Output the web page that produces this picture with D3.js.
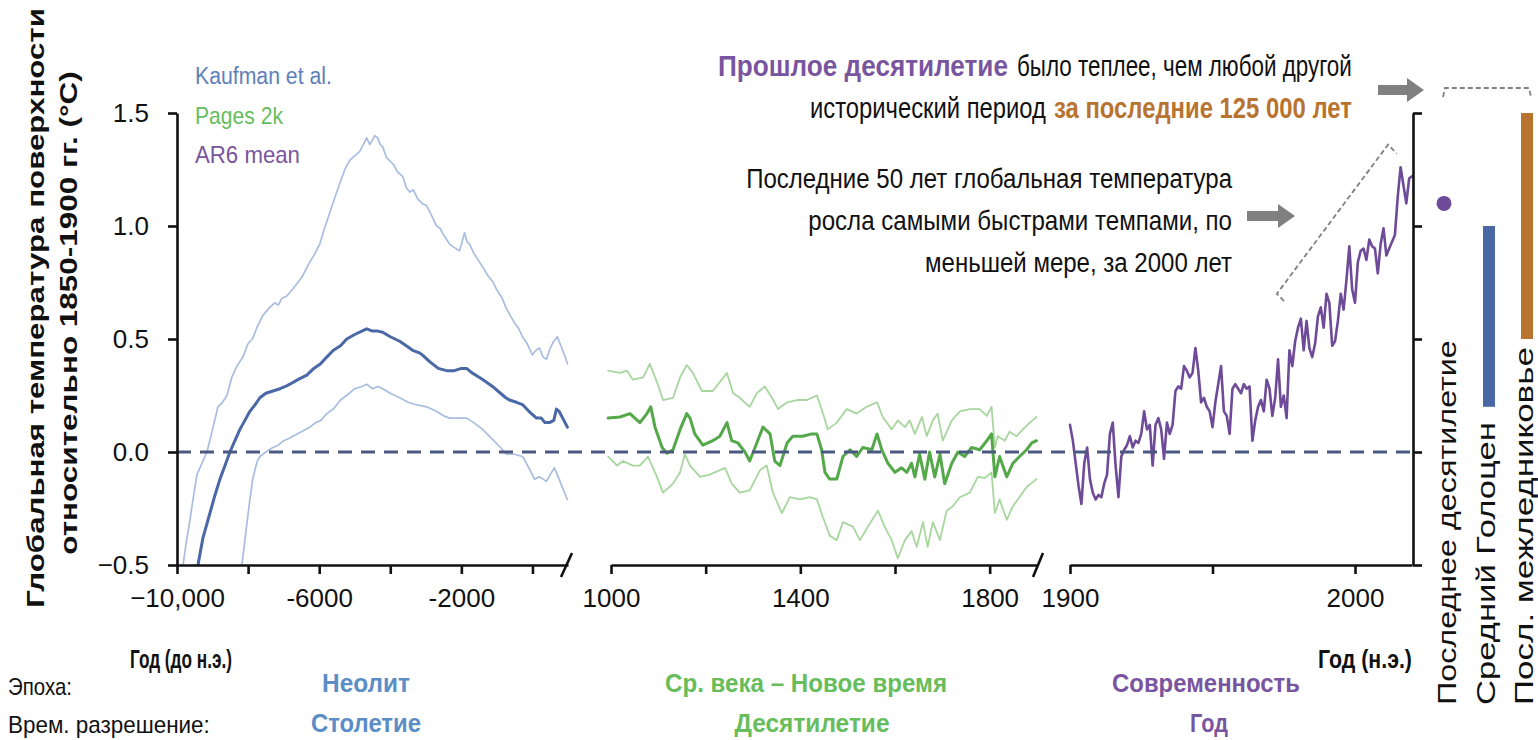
<!DOCTYPE html>
<html>
<head>
<meta charset="utf-8">
<script src="https://cdn.jsdelivr.net/npm/d3@7"></script>
<style>
  html, body { margin: 0; padding: 0; background: #fff; }
  svg { display: block; }
  text { font-family: "Liberation Sans", Arial, sans-serif; }
</style>
</head>
<body>
<svg id="chart" width="1538" height="740"></svg>
<script>
// ---------- Holocene (Kaufman et al.), [year, °C] ----------
const kaufmanMean = [[-9410,-0.5],[-9270,-0.38],[-9073,-0.27],[-8930,-0.19],[-8792,-0.12],[-8650,-0.06],[-8511,0.0],[-8370,0.05],[-8230,0.10],[-8090,0.14],[-7949,0.18],[-7800,0.21],[-7669,0.24],[-7500,0.26],[-7303,0.27],[-7100,0.28],[-6950,0.29],[-6826,0.30],[-6600,0.32],[-6348,0.34],[-6150,0.37],[-5960,0.39],[-5787,0.42],[-5600,0.45],[-5400,0.47],[-5225,0.50],[-5000,0.52],[-4800,0.535],[-4663,0.545],[-4500,0.535],[-4350,0.535],[-4213,0.53],[-4000,0.51],[-3736,0.49],[-3550,0.47],[-3371,0.45],[-3200,0.44],[-3100,0.43],[-2893,0.40],[-2650,0.37],[-2416,0.36],[-2200,0.36],[-2000,0.37],[-1854,0.37],[-1700,0.35],[-1489,0.33],[-1300,0.31],[-1123,0.29],[-900,0.26],[-750,0.24],[-646,0.23],[-450,0.22],[-281,0.21],[-100,0.18],[113,0.15],[250,0.15],[350,0.13],[478,0.13],[600,0.14],[674,0.19],[750,0.18],[850,0.15],[983,0.11]];
const kaufmanUpper = [[-9830,-0.5],[-9740,-0.40],[-9635,-0.30],[-9540,-0.20],[-9438,-0.10],[-9300,-0.05],[-9157,0.0],[-9000,0.10],[-8848,0.20],[-8720,0.22],[-8595,0.25],[-8460,0.33],[-8315,0.38],[-8146,0.42],[-8000,0.48],[-7880,0.50],[-7753,0.55],[-7600,0.60],[-7500,0.62],[-7388,0.64],[-7250,0.66],[-7150,0.65],[-7050,0.68],[-6910,0.69],[-6800,0.71],[-6700,0.73],[-6600,0.75],[-6461,0.78],[-6300,0.83],[-6150,0.87],[-5983,0.92],[-5850,0.99],[-5700,1.06],[-5506,1.15],[-5350,1.22],[-5250,1.26],[-5140,1.29],[-5000,1.31],[-4859,1.33],[-4760,1.36],[-4663,1.39],[-4579,1.36],[-4500,1.38],[-4438,1.40],[-4354,1.39],[-4280,1.36],[-4213,1.35],[-4100,1.30],[-4017,1.29],[-3900,1.27],[-3800,1.24],[-3652,1.22],[-3550,1.17],[-3455,1.15],[-3350,1.16],[-3230,1.12],[-3100,1.10],[-2978,1.09],[-2850,1.05],[-2697,1.00],[-2600,0.99],[-2500,0.96],[-2416,0.94],[-2330,0.92],[-2247,0.91],[-2150,0.90],[-2050,0.89],[-1980,0.93],[-1910,0.97],[-1840,0.93],[-1770,0.92],[-1650,0.88],[-1530,0.85],[-1404,0.82],[-1250,0.78],[-1100,0.75],[-1011,0.72],[-850,0.68],[-750,0.64],[-646,0.61],[-500,0.57],[-400,0.55],[-281,0.51],[-150,0.48],[0,0.43],[100,0.45],[197,0.46],[300,0.42],[393,0.41],[500,0.46],[600,0.49],[702,0.51],[800,0.47],[900,0.43],[983,0.39]];
const kaufmanLower = [[-8174,-0.5],[-8060,-0.35],[-7949,-0.21],[-7870,-0.12],[-7809,-0.08],[-7740,-0.04],[-7669,-0.02],[-7500,0.0],[-7303,0.02],[-7150,0.03],[-7000,0.05],[-6850,0.06],[-6742,0.07],[-6500,0.09],[-6264,0.11],[-6100,0.13],[-5950,0.14],[-5787,0.17],[-5600,0.19],[-5400,0.23],[-5225,0.25],[-5000,0.28],[-4800,0.29],[-4663,0.30],[-4500,0.28],[-4350,0.29],[-4213,0.28],[-4000,0.26],[-3736,0.24],[-3500,0.22],[-3300,0.21],[-2978,0.20],[-2700,0.18],[-2500,0.16],[-2331,0.15],[-2100,0.15],[-1854,0.15],[-1650,0.13],[-1404,0.10],[-1150,0.06],[-900,0.02],[-730,-0.01],[-500,-0.01],[-281,-0.02],[-100,-0.07],[56,-0.12],[200,-0.11],[393,-0.13],[500,-0.10],[618,-0.07],[750,-0.12],[850,-0.16],[983,-0.21]];

// ---------- Common Era (PAGES 2k), [year, °C] ----------
const pagesMean = [[994,0.15],[1019,0.155],[1040,0.17],[1061,0.13],[1076,0.17],[1084,0.20],[1093,0.11],[1108,0.02],[1118,-0.005],[1131,0.01],[1146,0.10],[1160,0.17],[1167,0.15],[1177,0.08],[1194,0.03],[1215,0.05],[1230,0.07],[1245,0.13],[1255,0.05],[1268,0.04],[1283,0.0],[1293,-0.04],[1308,0.04],[1321,0.11],[1336,0.08],[1346,-0.04],[1357,-0.06],[1372,0.04],[1384,0.07],[1405,0.07],[1424,0.08],[1435,0.08],[1445,0.01],[1452,-0.09],[1462,-0.12],[1477,-0.12],[1490,-0.02],[1505,0.01],[1519,-0.02],[1532,0.02],[1551,0.01],[1562,0.08],[1572,0.01],[1585,-0.05],[1600,-0.09],[1614,-0.07],[1625,-0.09],[1635,-0.05],[1642,-0.11],[1652,-0.01],[1663,-0.12],[1673,0.0],[1684,-0.11],[1695,-0.01],[1705,-0.14],[1720,-0.05],[1733,0.0],[1747,-0.02],[1762,0.02],[1779,0.01],[1794,0.05],[1804,0.08],[1811,-0.11],[1821,-0.02],[1836,-0.11],[1849,-0.05],[1863,-0.02],[1878,0.01],[1889,0.04],[1899,0.05]];
const pagesUpper = [[994,0.36],[1019,0.35],[1034,0.36],[1046,0.32],[1068,0.33],[1082,0.39],[1097,0.31],[1110,0.23],[1131,0.24],[1146,0.33],[1160,0.385],[1173,0.35],[1192,0.27],[1215,0.27],[1234,0.32],[1245,0.35],[1258,0.26],[1272,0.24],[1293,0.20],[1308,0.26],[1325,0.29],[1340,0.24],[1353,0.19],[1372,0.22],[1393,0.23],[1414,0.23],[1435,0.25],[1448,0.17],[1458,0.10],[1477,0.13],[1498,0.19],[1519,0.17],[1540,0.20],[1562,0.22],[1574,0.155],[1593,0.10],[1606,0.14],[1621,0.11],[1631,0.14],[1642,0.08],[1657,0.155],[1667,0.07],[1680,0.14],[1690,0.17],[1701,0.05],[1720,0.14],[1737,0.18],[1758,0.19],[1779,0.19],[1794,0.16],[1804,0.20],[1811,0.02],[1817,0.07],[1832,0.05],[1842,0.09],[1857,0.07],[1870,0.10],[1885,0.13],[1899,0.155]];
const pagesLower = [[994,-0.02],[1013,-0.06],[1025,-0.04],[1046,-0.06],[1061,-0.06],[1078,-0.02],[1097,-0.11],[1110,-0.18],[1131,-0.14],[1146,-0.09],[1156,-0.01],[1167,-0.06],[1188,-0.11],[1209,-0.10],[1230,-0.08],[1241,-0.07],[1255,-0.14],[1272,-0.18],[1293,-0.17],[1315,-0.08],[1329,-0.06],[1342,-0.18],[1361,-0.27],[1378,-0.20],[1399,-0.21],[1420,-0.20],[1435,-0.21],[1448,-0.29],[1462,-0.37],[1477,-0.39],[1490,-0.31],[1511,-0.33],[1526,-0.39],[1543,-0.33],[1564,-0.26],[1578,-0.33],[1593,-0.39],[1606,-0.47],[1621,-0.39],[1635,-0.35],[1646,-0.42],[1659,-0.31],[1669,-0.42],[1680,-0.31],[1695,-0.39],[1709,-0.26],[1722,-0.24],[1737,-0.20],[1758,-0.18],[1775,-0.11],[1790,-0.115],[1804,-0.09],[1811,-0.27],[1821,-0.21],[1836,-0.30],[1849,-0.24],[1863,-0.20],[1878,-0.155],[1899,-0.12]];

// ---------- Instrumental (AR6 mean), annual from 1900 ----------
const ar6FirstYear = 1900;
const ar6Values = [0.12,0.05,-0.05,-0.15,-0.23,-0.05,0.02,-0.12,-0.18,-0.21,
  -0.19,-0.20,-0.14,-0.10,0.08,0.13,-0.06,-0.20,-0.02,0.01,
  0.03,0.07,0.02,0.05,0.04,0.08,0.18,0.10,0.12,-0.06,
  0.12,0.15,0.10,-0.03,0.13,0.08,0.12,0.27,0.29,0.28,
  0.38,0.36,0.33,0.35,0.46,0.36,0.22,0.24,0.20,0.18,
  0.11,0.22,0.30,0.38,0.18,0.16,0.08,0.28,0.30,0.28,
  0.26,0.30,0.28,0.29,0.05,0.14,0.20,0.23,0.18,0.32,
  0.28,0.16,0.24,0.41,0.20,0.25,0.15,0.45,0.38,0.49,
  0.55,0.59,0.45,0.58,0.46,0.42,0.48,0.60,0.64,0.55,
  0.70,0.66,0.47,0.49,0.58,0.70,0.63,0.76,0.91,0.72,
  0.66,0.84,0.89,0.90,0.85,0.94,0.91,0.90,0.79,0.92,
  0.99,0.87,0.90,0.93,0.96,1.13,1.26,1.18,1.10,1.21,1.22];

// ---------- Reference periods ----------
const lastDecade = 1.1;               // point
const midHolocene = [0.2, 1.0];       // range
const lastInterglacial = [0.5, 1.5];  // range

// ---------- Tick labels ----------
const yTicks = [-0.5, 0, 0.5, 1.0, 1.5];
const holoceneTicks = [-10000, -8000, -6000, -4000, -2000, 0];
const holoceneLabels = {"-10000": "\u221210,000", "-6000": "-6000", "-2000": "-2000"};
const commonEraTicks = [1000, 1200, 1400, 1600, 1800];
const commonEraLabels = {"1000": "1000", "1400": "1400", "1800": "1800"};
const modernTicks = [1900, 1950, 2000];
const modernLabels = {"1900": "1900", "2000": "2000"};

// ---------- Colours ----------
const C = {
  blue: "#4a68a6", blueLight: "#a9bde0", blueText: "#5e80ba", blueEra: "#5b8dc6",
  green: "#55a84a", greenLight: "#a7d69e", greenText: "#67bd5c",
  purple: "#6e4b98", purpleText: "#7a559f",
  orange: "#b8732f", zero: "#4b5882", axis: "#111", grey: "#808080"
};

const svg = d3.select("#chart");
svg.append("rect").attr("width", 1538).attr("height", 740).attr("fill", "#fff");

const y = d3.scaleLinear().domain([-0.5, 1.5]).range([565, 113]);
const xA = d3.scaleLinear().domain([-10000, 1000]).range([177, 568]);
const xB = d3.scaleLinear().domain([1000, 1900]).range([611, 1037]);
const xC = d3.scaleLinear().domain([1900, 2020]).range([1070, 1412]);

const defs = svg.append("defs");
defs.append("clipPath").attr("id", "plotClip")
  .append("rect").attr("x", 170).attr("y", 100).attr("width", 1250).attr("height", 465);

const plot = svg.append("g").attr("clip-path", "url(#plotClip)");
const mkLine = x => d3.line().x(d => x(d[0])).y(d => y(d[1]));

function drawSeries(data, x, color, width) {
  plot.append("path").datum(data)
    .attr("d", mkLine(x)).attr("fill", "none")
    .attr("stroke", color).attr("stroke-width", width)
    .attr("stroke-linejoin", "round").attr("stroke-linecap", "round");
}

drawSeries(kaufmanUpper, xA, C.blueLight, 1.7);
drawSeries(kaufmanLower, xA, C.blueLight, 1.7);
drawSeries(kaufmanMean, xA, C.blue, 3);
drawSeries(pagesUpper, xB, C.greenLight, 1.8);
drawSeries(pagesLower, xB, C.greenLight, 1.8);
drawSeries(pagesMean, xB, C.green, 3);
drawSeries(ar6Values.map((v, i) => [ar6FirstYear + i, v]), xC, C.purple, 2.6);

// zero reference (1850–1900 baseline)
svg.append("line")
  .attr("x1", xA(-10000)).attr("x2", xC(2020))
  .attr("y1", y(0)).attr("y2", y(0))
  .attr("stroke", C.zero).attr("stroke-width", 3)
  .attr("stroke-dasharray", "14,9");

// ---------- Axes ----------
function styleAxis(g) {
  g.selectAll("path.domain").attr("stroke", C.axis).attr("stroke-width", 2.6);
  g.selectAll(".tick line").attr("stroke", C.axis).attr("stroke-width", 2.6);
  g.selectAll(".tick text").attr("fill", C.axis)
    .style("font-family", "'Liberation Sans', Arial, sans-serif")
    .style("font-size", "26px");
}

const yAxisL = svg.append("g").attr("transform", "translate(177,0)")
  .call(d3.axisLeft(y).tickValues(yTicks).tickSize(9).tickSizeOuter(0).tickPadding(19)
    .tickFormat(d3.format(".1f")));
styleAxis(yAxisL);

const yAxisR = svg.append("g").attr("transform", "translate(1413,0)")
  .call(d3.axisRight(y).tickValues(yTicks).tickSize(9).tickSizeOuter(0).tickFormat(""));
styleAxis(yAxisR);

function bottomAxis(x, ticks, labels) {
  const g = svg.append("g").attr("transform", "translate(0,565)")
    .call(d3.axisBottom(x).tickValues(ticks).tickSize(9).tickSizeOuter(0).tickPadding(15)
      .tickFormat(d => labels[String(d)] || ""));
  styleAxis(g);
  return g;
}
bottomAxis(xA, holoceneTicks, holoceneLabels);
bottomAxis(xB, commonEraTicks, commonEraLabels);
bottomAxis(xC, modernTicks, modernLabels);

// axis break marks
[[xA(1000) - 7, xA(1000) + 4], [xB(1900) - 4, xB(1900) + 6]].forEach(([a, b]) => {
  svg.append("line").attr("x1", a).attr("y1", 577).attr("x2", b).attr("y2", 553)
    .attr("stroke", C.axis).attr("stroke-width", 2.6);
});

// ---------- Reference-period markers ----------
svg.append("circle").attr("cx", 1444).attr("cy", y(lastDecade)).attr("r", 7.5).attr("fill", C.purple);
svg.append("rect").attr("x", 1483).attr("width", 12)
  .attr("y", y(midHolocene[1])).attr("height", y(midHolocene[0]) - y(midHolocene[1]))
  .attr("fill", C.blue);
svg.append("rect").attr("x", 1521).attr("width", 12)
  .attr("y", y(lastInterglacial[1])).attr("height", y(lastInterglacial[0]) - y(lastInterglacial[1]))
  .attr("fill", C.orange);

// ---------- Text helper: condensed text squeezed horizontally to a given width ----------
function txt(str, x, yy, opts = {}) {
  const g = svg.append("g");
  const t = g.append("text").attr("x", 0).attr("y", 0)
    .attr("font-size", opts.size || 24)
    .attr("fill", opts.color || "#111")
    .attr("font-weight", opts.bold ? "bold" : "normal")
    .attr("text-anchor", opts.anchor || "start")
    .text(str);
  let sx = 1;
  if (opts.len) sx = opts.len / t.node().getComputedTextLength();
  const rot = opts.rotate ? ` rotate(${opts.rotate})` : "";
  g.attr("transform", `translate(${x},${yy})${rot} scale(${sx},1)`);
  return t;
}

vLabelSet();
function vLabelSet() {
  txt("Последнее десятилетие", 1456, 705, {size: 25, rotate: -90, len: 365});
  txt("Средний Голоцен", 1495, 705, {size: 25, rotate: -90, len: 283});
  txt("Посл. межледниковье", 1533, 705, {size: 25, rotate: -90, len: 358});
}

// legend
txt("Kaufman et al.", 195, 84, {size: 23, color: C.blueText, len: 137});
txt("Pages 2k", 195, 124, {size: 23, color: C.greenText, len: 88});
txt("AR6 mean", 195, 163, {size: 23, color: C.purpleText, len: 105});

// y-axis title
txt("Глобальная температура поверхности", 44, 308, {size: 23, bold: true, anchor: "middle", rotate: -90, len: 600});
txt("относительно 1850-1900 гг. (°C)", 77, 313, {size: 23, bold: true, anchor: "middle", rotate: -90, len: 484});

// x-axis titles and period rows
txt("Год (до н.э.)", 130, 668, {size: 26, bold: true, len: 102});
txt("Год (н.э.)", 1318, 668, {size: 26, bold: true, len: 94});
txt("Эпоха:", 8, 695, {size: 24, len: 64});
txt("Врем. разрешение:", 8, 733, {size: 24, len: 202});
txt("Неолит", 366, 692, {size: 26, bold: true, color: C.blueEra, anchor: "middle", len: 88});
txt("Столетие", 366, 732, {size: 26, bold: true, color: C.blueEra, anchor: "middle", len: 110});
txt("Ср. века – Новое время", 806, 692, {size: 26, bold: true, color: C.greenText, anchor: "middle", len: 282});
txt("Десятилетие", 812, 732, {size: 26, bold: true, color: C.greenText, anchor: "middle", len: 155});
txt("Современность", 1206, 692, {size: 26, bold: true, color: C.purpleText, anchor: "middle", len: 188});
txt("Год", 1209, 732, {size: 26, bold: true, color: C.purpleText, anchor: "middle", len: 38});

// ---------- Annotations ----------
txt("Прошлое десятилетие", 718, 76, {size: 29, bold: true, color: C.purpleText, len: 290});
txt("было теплее, чем любой другой", 1017, 76, {size: 29, len: 335});
txt("исторический период", 810, 118, {size: 29, len: 236});
txt("за последние 125 000 лет", 1054, 118, {size: 29, bold: true, color: C.orange, len: 298});

txt("Последние 50 лет глобальная температура", 1232, 188, {size: 28, anchor: "end", len: 486});
txt("росла самыми быстрами темпами, по", 1232, 230, {size: 28, anchor: "end", len: 424});
txt("меньшей мере, за 2000 лет", 1232, 272, {size: 28, anchor: "end", len: 307});

function arrow(x0, x1, cy) {
  const head = 17, sh = 5, hh = 12;
  const p = d3.path();
  p.moveTo(x0, cy - sh); p.lineTo(x1 - head, cy - sh); p.lineTo(x1 - head, cy - hh);
  p.lineTo(x1, cy); p.lineTo(x1 - head, cy + hh); p.lineTo(x1 - head, cy + sh);
  p.lineTo(x0, cy + sh); p.closePath();
  svg.append("path").attr("d", p.toString()).attr("fill", C.grey);
}
arrow(1378, 1424, 90);
arrow(1247, 1295, 216);

// bracket over the last five decades of the instrumental record
const bracket = [[1975.1, 0.668], [1972.6, 0.70], [2011.6, 1.36], [2014.7, 1.32]];
svg.append("path").datum(bracket)
  .attr("d", d3.line().x(d => xC(d[0])).y(d => y(d[1])))
  .attr("fill", "none").attr("stroke", C.grey).attr("stroke-width", 1.8)
  .attr("stroke-dasharray", "5,3");

// bracket over the reference-period markers
svg.append("path")
  .attr("d", "M1443,97 L1445,88 L1529,88 L1531,97")
  .attr("fill", "none").attr("stroke", C.grey).attr("stroke-width", 1.8)
  .attr("stroke-dasharray", "5,3");
</script>
</body>
</html>
